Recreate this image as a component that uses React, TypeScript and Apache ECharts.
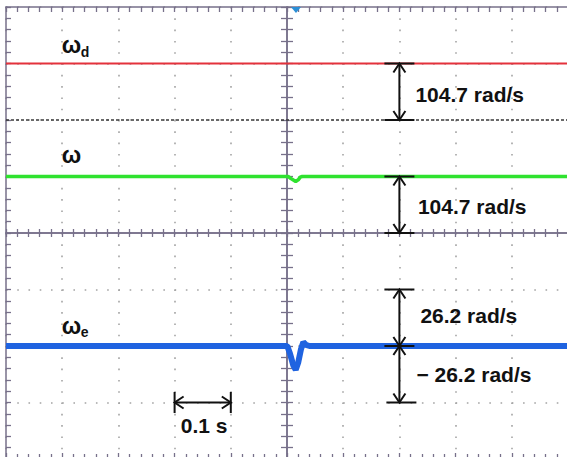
import React, { useEffect, useRef } from "react";
import * as echarts from "echarts";

// time axis (s), 0.1 s per division, trigger at centre
const timeMin = -0.5;
const timeMax = 0.5;
const timeStep = 0.1;
// division scale
const divMin = 0;
const divMax = 8;
// channel scales (rad/s per division)
const speedScale = 104.7;
const errorScale = 26.2;

// ω_d reference speed
const wdTime = [-0.5, 0.5];
const wdValues = [104.7, 104.7];
// channel 1 zero reference
const refTime = [-0.5, 0.5];
const refValues = [0, 0];
// ω measured speed
const wTime = [-0.5, 0.002, 0.007, 0.0155, 0.02, 0.0235, 0.027, 0.5];
const wValues = [104.7, 104.7, 101, 95.5, 98.5, 103.5, 104.7, 104.7];
// ω_e speed error
const weTime = [-0.5, 0.0005, 0.0053, 0.0112, 0.0155, 0.0201, 0.0249, 0.029, 0.0338, 0.04, 0.5];
const weValues = [0, 0, -3.5, -9, -11, -7.5, -1.5, 1.8, 0.5, 0, 0];

const annotationLabels = ["104.7 rad/s", "104.7 rad/s", "26.2 rad/s", "− 26.2 rad/s", "0.1 s"];

const zip = (a: number[], b: number[]) => a.map((t, i) => [t, b[i]]);

const axisColor = "#77708a";
const dotColor = "#a4a4a4";
const FONT = '"Liberation Sans", Arial, sans-serif';

function xAx(extra: any) {
  return {
    type: "value",
    min: timeMin,
    max: timeMax,
    interval: timeStep,
    axisLabel: { show: false },
    splitLine: { show: false },
    axisLine: { show: true, onZero: false, lineStyle: { color: axisColor, width: 1.5 } },
    axisTick: { show: true, inside: true, length: 5, lineStyle: { color: axisColor, width: 1.3 } },
    minorTick: { show: true, splitNumber: 5, length: 5, lineStyle: { color: axisColor, width: 1.3 } },
    ...extra,
  };
}
function yAx(extra: any) {
  return {
    type: "value",
    min: divMin,
    max: divMax,
    interval: 1,
    axisLabel: { show: false },
    splitLine: { show: false },
    axisLine: { show: true, onZero: false, lineStyle: { color: axisColor, width: 1.5 } },
    axisTick: { show: true, inside: true, length: 5, lineStyle: { color: axisColor, width: 1.3 } },
    minorTick: { show: true, splitNumber: 5, length: 5, lineStyle: { color: axisColor, width: 1.3 } },
    ...extra,
  };
}

const option: any = {
  animation: false,
  backgroundColor: "#ffffff",
  grid: { left: 6, top: 7, width: 562, height: 452 },
  xAxis: [
    xAx({
      position: "bottom",
      axisTick: { show: true, inside: true, length: 6, lineStyle: { color: axisColor, width: 1.3 } },
      splitLine: { show: true, lineStyle: { color: dotColor, width: 1.6, type: [1.6, 9.7] } },
    }),
    xAx({ position: "top" }),
    xAx({
      position: "bottom",
      axisLine: { show: true, onZero: true, onZeroAxisIndex: 4, lineStyle: { color: axisColor, width: 1.5 } },
      axisTick: { show: true, inside: true, length: 4, lineStyle: { color: axisColor, width: 1.3 } },
      minorTick: { show: true, splitNumber: 5, length: 4, lineStyle: { color: axisColor, width: 1.3 } },
    }),
    xAx({
      position: "bottom",
      axisLine: { show: true, onZero: true, onZeroAxisIndex: 4, lineStyle: { color: axisColor, width: 1.5 } },
      axisTick: { show: true, inside: false, length: 4, lineStyle: { color: axisColor, width: 1.3 } },
      minorTick: { show: true, splitNumber: 5, length: 4, lineStyle: { color: axisColor, width: 1.3 } },
    }),
  ],
  yAxis: [
    yAx({
      position: "left",
      splitLine: { show: true, lineStyle: { color: dotColor, width: 1.6, type: [1.6, 9.64] } },
    }),
    yAx({
      position: "left",
      axisLine: { show: true, onZero: true, onZeroAxisIndex: 0, lineStyle: { color: axisColor, width: 1.5 } },
      axisTick: { show: true, inside: true, length: 6, lineStyle: { color: axisColor, width: 1.3 } },
      minorTick: { show: true, splitNumber: 5, length: 6, lineStyle: { color: axisColor, width: 1.3 } },
    }),
    yAx({
      position: "left",
      axisLine: { show: true, onZero: true, onZeroAxisIndex: 0, lineStyle: { color: axisColor, width: 1.5 } },
      axisTick: { show: true, inside: false, length: 6, lineStyle: { color: axisColor, width: 1.3 } },
      minorTick: { show: true, splitNumber: 5, length: 6, lineStyle: { color: axisColor, width: 1.3 } },
    }),
    { type: "value", show: false, min: -6 * speedScale, max: 2 * speedScale },
    { type: "value", show: false, min: -4 * speedScale, max: 4 * speedScale },
    { type: "value", show: false, min: -2 * errorScale, max: 6 * errorScale },
  ],
  series: [
    {
      name: "ref",
      type: "line",
      xAxisIndex: 0,
      yAxisIndex: 3,
      data: zip(refTime, refValues),
      symbol: "none",
      silent: true,
      lineStyle: { color: "#3a3a3a", width: 1.4, type: [3, 2] },
    },
    {
      name: "ωd",
      type: "line",
      xAxisIndex: 0,
      yAxisIndex: 3,
      data: zip(wdTime, wdValues),
      symbol: "none",
      silent: true,
      lineStyle: { color: "#e4323c", width: 2 },
    },
    {
      name: "ω",
      type: "line",
      xAxisIndex: 0,
      yAxisIndex: 4,
      data: zip(wTime, wValues),
      symbol: "none",
      silent: true,
      lineStyle: { color: "#2fe22f", width: 3.5 },
    },
    {
      name: "ωe",
      type: "line",
      xAxisIndex: 0,
      yAxisIndex: 5,
      data: zip(weTime, weValues),
      symbol: "none",
      silent: true,
      lineStyle: { color: "#1f63e0", width: 6 },
    },
  ],
};

export default function App() {
  const ref = useRef<HTMLDivElement>(null);
  useEffect(() => {
    if (!ref.current) return;
    const chart = echarts.init(ref.current, null, { renderer: "svg" });
    chart.setOption(option);

    const P = (yi: number, t: number, v: number) =>
      chart.convertToPixel({ xAxisIndex: 0, yAxisIndex: yi } as any, [t, v]) as number[];

    const els: any[] = [];
    const stroke = "#111111";
    const line = (x1: number, y1: number, x2: number, y2: number) =>
      els.push({ type: "line", z: 100, shape: { x1, y1, x2, y2 }, style: { stroke, lineWidth: 2 } });
    const poly = (pts: number[][]) =>
      els.push({ type: "polyline", z: 100, shape: { points: pts }, style: { stroke, lineWidth: 2, fill: "none" } });
    const text = (s: string, x: number, y: number, size: number, align = "left") =>
      els.push({
        type: "text",
        z: 100,
        x,
        y,
        style: { text: s, fontSize: size, fontWeight: "bold", fontFamily: FONT, fill: "#111", align, verticalAlign: "middle" },
      });

    const hw = 6, hh = 9, cap = 15;
    const vArrow = (x: number, yTop: number, yBot: number) => {
      line(x, yTop, x, yBot);
      poly([[x - hw, yTop + hh], [x, yTop], [x + hw, yTop + hh]]);
      poly([[x - hw, yBot - hh], [x, yBot], [x + hw, yBot - hh]]);
    };

    const ax = P(3, 0.2, 0)[0];
    // ωd arrow
    const yWd = P(3, 0, wdValues[0])[1];
    const yRef = P(3, 0, 0)[1];
    vArrow(ax, yWd, yRef);
    line(ax - cap, yWd, ax + cap, yWd);
    line(ax - cap, yRef, ax + cap, yRef);
    text(annotationLabels[0], ax + 16, (yWd + yRef) / 2 + 3, 21);

    // ω arrow
    const yW = P(4, 0, wValues[0])[1];
    const yW0 = P(4, 0, 0)[1];
    vArrow(ax, yW, yW0);
    line(ax - cap, yW, ax + cap, yW);
    line(ax - cap, yW0, ax + cap, yW0);
    text(annotationLabels[1], ax + 18.5, (yW + yW0) / 2 + 2, 21);

    // ωe arrows
    const yEp = P(5, 0, errorScale)[1];
    const yE0 = P(5, 0, 0)[1];
    const yEn = P(5, 0, -errorScale)[1];
    vArrow(ax, yEp, yE0);
    vArrow(ax, yE0, yEn);
    line(ax - cap, yEp, ax + cap, yEp);
    line(ax - cap, yE0, ax + cap, yE0);
    line(ax - cap + 2, yEn, ax + cap + 2, yEn);
    text(annotationLabels[2], ax + 21, (yEp + yE0) / 2 - 2.5, 21);
    text(annotationLabels[3], ax + 17, (yE0 + yEn) / 2 + 0.6, 21);

    // 0.1 s arrow
    const [hx1, hy] = P(0, -0.2, 1);
    const hx2 = P(0, -0.1, 1)[0];
    line(hx1, hy, hx2, hy);
    poly([[hx1 + hh, hy - hw], [hx1, hy], [hx1 + hh, hy + hw]]);
    poly([[hx2 - hh, hy - hw], [hx2, hy], [hx2 - hh, hy + hw]]);
    line(hx1, hy - 10.5, hx1, hy + 10.5);
    line(hx2, hy - 10.5, hx2, hy + 10.5);
    text(annotationLabels[4], (hx1 + hx2) / 2 + 1.5, hy + 23, 21, "center");

    // trace labels
    const lx = P(0, -0.4, 0)[0] - 0.5;
    const subX = lx + 19;
    text("ω", lx, yWd - 18.3, 23);
    text("d", subX, yWd - 11.8, 14);
    text("ω", lx, yW - 21.5, 23);
    text("ω", lx, yE0 - 20.5, 23);
    text("e", subX, yE0 - 14.3, 14);

    // trigger marker
    const [tx, ty] = P(0, 0.016, divMax);
    els.push({
      type: "polygon",
      z: 100,
      shape: { points: [[tx - 5, ty], [tx + 5, ty], [tx, ty + 6]] },
      style: { fill: "#2b8fd6" },
    });

    chart.setOption({ graphic: els });
    return () => chart.dispose();
  }, []);
  return (
    <div style={{ position: "fixed", left: 0, top: 0, width: 567, height: 457, overflow: "hidden", background: "#fff" }}>
      <div ref={ref} style={{ width: 570, height: 461 }} />
    </div>
  );
}
